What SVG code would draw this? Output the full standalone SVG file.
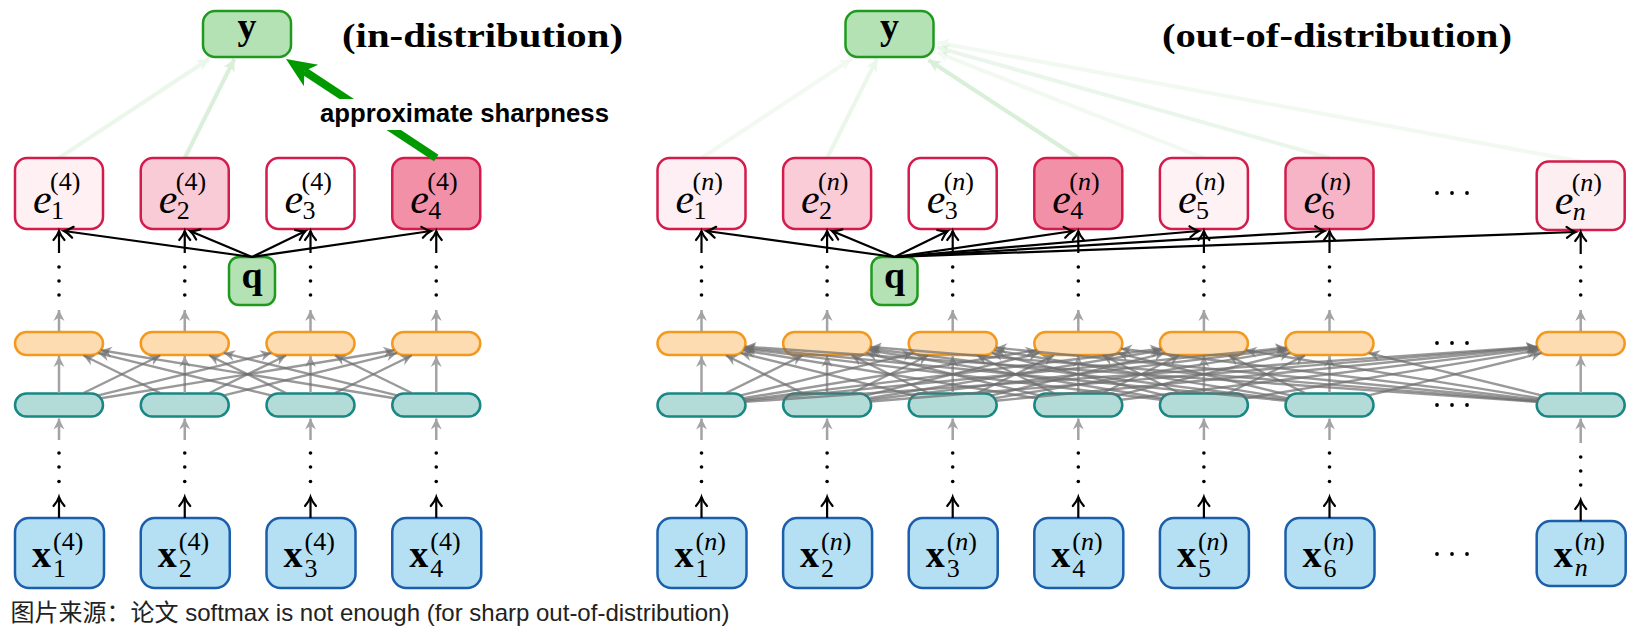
<svg xmlns="http://www.w3.org/2000/svg" width="1637" height="630" viewBox="0 0 1637 630">
<style>
.e{stroke:#d41c4c;stroke-width:2.5}
.o{fill:#fddcb2;stroke:#f39a1e;stroke-width:2.5}
.t{fill:#b3dcd9;stroke:#198784;stroke-width:2.5}
.x{fill:#b5e0f3;stroke:#1b5eab;stroke-width:2.5}
.g{fill:#b4e2b4;stroke:#1f9a1f;stroke-width:2.5}
text{fill:#000}
.mi{font-family:"Liberation Serif",serif;font-style:italic;font-size:42px}
.bf{font-family:"Liberation Serif",serif;font-weight:bold;font-size:38px}
.bl{font-family:"Liberation Serif",serif;font-weight:bold;font-size:38px}
.s{font-family:"Liberation Serif",serif;font-size:26px;font-style:normal;font-weight:normal}
.it{font-style:italic}
.ttl{font-family:"Liberation Serif",serif;font-weight:bold;font-size:34px}
.lab{font-family:"Liberation Sans",Arial,sans-serif;font-weight:bold;font-size:26px}
.cap{font-family:"Liberation Sans","Noto Sans CJK SC",sans-serif;font-size:24px;fill:#222}
.bk{stroke:#000;stroke-width:2.2;fill:none}
.gv{stroke:#a3a3a3;stroke-width:2.5;fill:none}
.gx{stroke:#6e6e6e;stroke-opacity:0.7;stroke-width:2.4;fill:none}
.gl{stroke:#009900;stroke-width:4;fill:none}
</style>
<defs>
<marker id="hb" markerUnits="userSpaceOnUse" markerWidth="20" markerHeight="20" refX="0" refY="0" orient="auto" overflow="visible"><path d="M-9,-5.5 Q-4,-1.3 0,0 Q-4,1.3 -9,5.5" fill="none" stroke="#000" stroke-width="2.2" stroke-linecap="round"/></marker>
<marker id="hv" markerUnits="userSpaceOnUse" markerWidth="20" markerHeight="20" refX="0" refY="0" orient="auto" overflow="visible"><path d="M0,0 L-11,-5.5 L-7.5,0 L-11,5.5 Z" fill="#a3a3a3"/></marker>
<marker id="hx" markerUnits="userSpaceOnUse" markerWidth="20" markerHeight="20" refX="0" refY="0" orient="auto" overflow="visible"><path d="M0,0 L-11,-5.5 L-7.5,0 L-11,5.5 Z" fill="#6e6e6e" fill-opacity="0.7"/></marker>
<marker id="hg" markerUnits="userSpaceOnUse" markerWidth="20" markerHeight="20" refX="0" refY="0" orient="auto" overflow="visible"><path d="M0,0 L-12,-6 L-9,0 L-12,6 Z" fill="#009900"/></marker>
<marker id="hG" markerUnits="userSpaceOnUse" markerWidth="40" markerHeight="40" refX="-22" refY="0" orient="auto" overflow="visible"><path d="M0,0 L-30,-13 L-22,0 L-30,13 Z" fill="#009900"/></marker>
</defs>
<rect width="1637" height="630" fill="#fff"/>

<!-- titles -->
<text class="ttl" x="342" y="46.5" textLength="281" lengthAdjust="spacingAndGlyphs">(in-distribution)</text>
<text class="ttl" x="1162" y="46.5" textLength="350" lengthAdjust="spacingAndGlyphs">(out-of-distribution)</text>

<!-- LEFT PANEL NODES -->
<g id="y-left"><rect class="g" x="203" y="11" width="88" height="46" rx="12"/><text class="bl" x="247" y="39" text-anchor="middle">y</text></g>
<g id="q-left"><rect class="g" x="229" y="257" width="46" height="48" rx="10"/><text class="bl" x="252" y="288" text-anchor="middle">q</text></g>

<g id="e1-left"><rect class="e" x="15" y="158" width="88" height="71" rx="12" fill="#fff0f4"/><text class="mi"><tspan x="33" y="213">e</tspan><tspan class="s" x="50" y="190">(4)</tspan><tspan class="s" x="51" y="219">1</tspan></text></g>
<g id="e2-left"><rect class="e" x="140.75" y="158" width="88" height="71" rx="12" fill="#f8cbd7"/><text class="mi"><tspan x="158.75" y="213">e</tspan><tspan class="s" x="175.75" y="190">(4)</tspan><tspan class="s" x="176.75" y="219">2</tspan></text></g>
<g id="e3-left"><rect class="e" x="266.5" y="158" width="88" height="71" rx="12" fill="#ffffff"/><text class="mi"><tspan x="284.5" y="213">e</tspan><tspan class="s" x="301.5" y="190">(4)</tspan><tspan class="s" x="302.5" y="219">3</tspan></text></g>
<g id="e4-left"><rect class="e" x="392.25" y="158" width="88" height="71" rx="12" fill="#f290a8"/><text class="mi"><tspan x="410.25" y="213">e</tspan><tspan class="s" x="427.25" y="190">(4)</tspan><tspan class="s" x="428.25" y="219">4</tspan></text></g>

<g id="o1-left"><rect class="o" x="15" y="332" width="88" height="23" rx="11.5"/></g>
<g id="o2-left"><rect class="o" x="140.75" y="332" width="88" height="23" rx="11.5"/></g>
<g id="o3-left"><rect class="o" x="266.5" y="332" width="88" height="23" rx="11.5"/></g>
<g id="o4-left"><rect class="o" x="392.25" y="332" width="88" height="23" rx="11.5"/></g>
<g id="t1-left"><rect class="t" x="15" y="393.5" width="88" height="23" rx="11.5"/></g>
<g id="t2-left"><rect class="t" x="140.75" y="393.5" width="88" height="23" rx="11.5"/></g>
<g id="t3-left"><rect class="t" x="266.5" y="393.5" width="88" height="23" rx="11.5"/></g>
<g id="t4-left"><rect class="t" x="392.25" y="393.5" width="88" height="23" rx="11.5"/></g>

<g id="x1-left"><rect class="x" x="15" y="518" width="89" height="70" rx="14"/><text class="bf"><tspan x="32" y="567">x</tspan><tspan class="s" x="53" y="550">(4)</tspan><tspan class="s" x="53" y="577">1</tspan></text></g>
<g id="x2-left"><rect class="x" x="140.75" y="518" width="89" height="70" rx="14"/><text class="bf"><tspan x="157.75" y="567">x</tspan><tspan class="s" x="178.75" y="550">(4)</tspan><tspan class="s" x="178.75" y="577">2</tspan></text></g>
<g id="x3-left"><rect class="x" x="266.5" y="518" width="89" height="70" rx="14"/><text class="bf"><tspan x="283.5" y="567">x</tspan><tspan class="s" x="304.5" y="550">(4)</tspan><tspan class="s" x="304.5" y="577">3</tspan></text></g>
<g id="x4-left"><rect class="x" x="392.25" y="518" width="89" height="70" rx="14"/><text class="bf"><tspan x="409.25" y="567">x</tspan><tspan class="s" x="430.25" y="550">(4)</tspan><tspan class="s" x="430.25" y="577">4</tspan></text></g>

<!-- RIGHT PANEL NODES -->
<g id="y-right"><rect class="g" x="845.5" y="11" width="88" height="46" rx="12"/><text class="bl" x="889.5" y="39" text-anchor="middle">y</text></g>
<g id="q-right"><rect class="g" x="871.5" y="257" width="46" height="48" rx="10"/><text class="bl" x="894.5" y="288" text-anchor="middle">q</text></g>

<g id="e1-right"><rect class="e" x="657.5" y="158" width="88" height="71" rx="12" fill="#fdeff3"/><text class="mi"><tspan x="675.5" y="213">e</tspan><tspan class="s" x="692.5" y="190">(<tspan class="it">n</tspan>)</tspan><tspan class="s" x="693.5" y="219">1</tspan></text></g>
<g id="e2-right"><rect class="e" x="783.1" y="158" width="88" height="71" rx="12" fill="#f9ccd8"/><text class="mi"><tspan x="801.1" y="213">e</tspan><tspan class="s" x="818.1" y="190">(<tspan class="it">n</tspan>)</tspan><tspan class="s" x="819.1" y="219">2</tspan></text></g>
<g id="e3-right"><rect class="e" x="908.7" y="158" width="88" height="71" rx="12" fill="#ffffff"/><text class="mi"><tspan x="926.7" y="213">e</tspan><tspan class="s" x="943.7" y="190">(<tspan class="it">n</tspan>)</tspan><tspan class="s" x="944.7" y="219">3</tspan></text></g>
<g id="e4-right"><rect class="e" x="1034.3" y="158" width="88" height="71" rx="12" fill="#f290a8"/><text class="mi"><tspan x="1052.3" y="213">e</tspan><tspan class="s" x="1069.3" y="190">(<tspan class="it">n</tspan>)</tspan><tspan class="s" x="1070.3" y="219">4</tspan></text></g>
<g id="e5-right"><rect class="e" x="1159.9" y="158" width="88" height="71" rx="12" fill="#fff2f5"/><text class="mi"><tspan x="1177.9" y="213">e</tspan><tspan class="s" x="1194.9" y="190">(<tspan class="it">n</tspan>)</tspan><tspan class="s" x="1195.9" y="219">5</tspan></text></g>
<g id="e6-right"><rect class="e" x="1285.5" y="158" width="88" height="71" rx="12" fill="#f7b4c6"/><text class="mi"><tspan x="1303.5" y="213">e</tspan><tspan class="s" x="1320.5" y="190">(<tspan class="it">n</tspan>)</tspan><tspan class="s" x="1321.5" y="219">6</tspan></text></g>
<g id="en-right"><rect class="e" x="1536.7" y="161.5" width="88" height="68.5" rx="12" fill="#fdeef2"/><text class="mi"><tspan x="1554.7" y="214">e</tspan><tspan class="s" x="1571.7" y="191">(<tspan class="it">n</tspan>)</tspan><tspan class="s it" x="1572.7" y="220">n</tspan></text></g>

<g id="o1-right"><rect class="o" x="657.5" y="332" width="88" height="23" rx="11.5"/></g>
<g id="o2-right"><rect class="o" x="783.1" y="332" width="88" height="23" rx="11.5"/></g>
<g id="o3-right"><rect class="o" x="908.7" y="332" width="88" height="23" rx="11.5"/></g>
<g id="o4-right"><rect class="o" x="1034.3" y="332" width="88" height="23" rx="11.5"/></g>
<g id="o5-right"><rect class="o" x="1159.9" y="332" width="88" height="23" rx="11.5"/></g>
<g id="o6-right"><rect class="o" x="1285.5" y="332" width="88" height="23" rx="11.5"/></g>
<g id="on-right"><rect class="o" x="1536.7" y="332" width="88" height="23" rx="11.5"/></g>
<g id="t1-right"><rect class="t" x="657.5" y="393.5" width="88" height="23" rx="11.5"/></g>
<g id="t2-right"><rect class="t" x="783.1" y="393.5" width="88" height="23" rx="11.5"/></g>
<g id="t3-right"><rect class="t" x="908.7" y="393.5" width="88" height="23" rx="11.5"/></g>
<g id="t4-right"><rect class="t" x="1034.3" y="393.5" width="88" height="23" rx="11.5"/></g>
<g id="t5-right"><rect class="t" x="1159.9" y="393.5" width="88" height="23" rx="11.5"/></g>
<g id="t6-right"><rect class="t" x="1285.5" y="393.5" width="88" height="23" rx="11.5"/></g>
<g id="tn-right"><rect class="t" x="1536.7" y="393.5" width="88" height="23" rx="11.5"/></g>

<g id="x1-right"><rect class="x" x="657.5" y="518" width="89" height="70" rx="14"/><text class="bf"><tspan x="674.5" y="567">x</tspan><tspan class="s" x="695.5" y="550">(<tspan class="it">n</tspan>)</tspan><tspan class="s" x="695.5" y="577">1</tspan></text></g>
<g id="x2-right"><rect class="x" x="783.1" y="518" width="89" height="70" rx="14"/><text class="bf"><tspan x="800.1" y="567">x</tspan><tspan class="s" x="821.1" y="550">(<tspan class="it">n</tspan>)</tspan><tspan class="s" x="821.1" y="577">2</tspan></text></g>
<g id="x3-right"><rect class="x" x="908.7" y="518" width="89" height="70" rx="14"/><text class="bf"><tspan x="925.7" y="567">x</tspan><tspan class="s" x="946.7" y="550">(<tspan class="it">n</tspan>)</tspan><tspan class="s" x="946.7" y="577">3</tspan></text></g>
<g id="x4-right"><rect class="x" x="1034.3" y="518" width="89" height="70" rx="14"/><text class="bf"><tspan x="1051.3" y="567">x</tspan><tspan class="s" x="1072.3" y="550">(<tspan class="it">n</tspan>)</tspan><tspan class="s" x="1072.3" y="577">4</tspan></text></g>
<g id="x5-right"><rect class="x" x="1159.9" y="518" width="89" height="70" rx="14"/><text class="bf"><tspan x="1176.9" y="567">x</tspan><tspan class="s" x="1197.9" y="550">(<tspan class="it">n</tspan>)</tspan><tspan class="s" x="1197.9" y="577">5</tspan></text></g>
<g id="x6-right"><rect class="x" x="1285.5" y="518" width="89" height="70" rx="14"/><text class="bf"><tspan x="1302.5" y="567">x</tspan><tspan class="s" x="1323.5" y="550">(<tspan class="it">n</tspan>)</tspan><tspan class="s" x="1323.5" y="577">6</tspan></text></g>
<g id="xn-right"><rect class="x" x="1536.7" y="521" width="89" height="65" rx="14"/><text class="bf"><tspan x="1553.7" y="567">x</tspan><tspan class="s" x="1574.7" y="550">(<tspan class="it">n</tspan>)</tspan><tspan class="s it" x="1574.7" y="576">n</tspan></text></g>

<!-- ellipses (dots) -->
<g id="dots" fill="#000">
<g id="vdots-upper">
<circle cx="59" cy="267" r="1.8"/><circle cx="59" cy="281" r="1.8"/><circle cx="59" cy="295" r="1.8"/>
<circle cx="184.75" cy="267" r="1.8"/><circle cx="184.75" cy="281" r="1.8"/><circle cx="184.75" cy="295" r="1.8"/>
<circle cx="310.5" cy="267" r="1.8"/><circle cx="310.5" cy="281" r="1.8"/><circle cx="310.5" cy="295" r="1.8"/>
<circle cx="436.25" cy="267" r="1.8"/><circle cx="436.25" cy="281" r="1.8"/><circle cx="436.25" cy="295" r="1.8"/>
<circle cx="701.5" cy="267" r="1.8"/><circle cx="701.5" cy="281" r="1.8"/><circle cx="701.5" cy="295" r="1.8"/>
<circle cx="827.1" cy="267" r="1.8"/><circle cx="827.1" cy="281" r="1.8"/><circle cx="827.1" cy="295" r="1.8"/>
<circle cx="952.7" cy="267" r="1.8"/><circle cx="952.7" cy="281" r="1.8"/><circle cx="952.7" cy="295" r="1.8"/>
<circle cx="1078.3" cy="267" r="1.8"/><circle cx="1078.3" cy="281" r="1.8"/><circle cx="1078.3" cy="295" r="1.8"/>
<circle cx="1203.9" cy="267" r="1.8"/><circle cx="1203.9" cy="281" r="1.8"/><circle cx="1203.9" cy="295" r="1.8"/>
<circle cx="1329.5" cy="267" r="1.8"/><circle cx="1329.5" cy="281" r="1.8"/><circle cx="1329.5" cy="295" r="1.8"/>
<circle cx="1580.7" cy="267" r="1.8"/><circle cx="1580.7" cy="281" r="1.8"/><circle cx="1580.7" cy="295" r="1.8"/>
</g>
<g id="vdots-lower">
<circle cx="59" cy="453" r="1.8"/><circle cx="59" cy="467" r="1.8"/><circle cx="59" cy="481.5" r="1.8"/>
<circle cx="184.75" cy="453" r="1.8"/><circle cx="184.75" cy="467" r="1.8"/><circle cx="184.75" cy="481.5" r="1.8"/>
<circle cx="310.5" cy="453" r="1.8"/><circle cx="310.5" cy="467" r="1.8"/><circle cx="310.5" cy="481.5" r="1.8"/>
<circle cx="436.25" cy="453" r="1.8"/><circle cx="436.25" cy="467" r="1.8"/><circle cx="436.25" cy="481.5" r="1.8"/>
<circle cx="701.5" cy="453" r="1.8"/><circle cx="701.5" cy="467" r="1.8"/><circle cx="701.5" cy="481.5" r="1.8"/>
<circle cx="827.1" cy="453" r="1.8"/><circle cx="827.1" cy="467" r="1.8"/><circle cx="827.1" cy="481.5" r="1.8"/>
<circle cx="952.7" cy="453" r="1.8"/><circle cx="952.7" cy="467" r="1.8"/><circle cx="952.7" cy="481.5" r="1.8"/>
<circle cx="1078.3" cy="453" r="1.8"/><circle cx="1078.3" cy="467" r="1.8"/><circle cx="1078.3" cy="481.5" r="1.8"/>
<circle cx="1203.9" cy="453" r="1.8"/><circle cx="1203.9" cy="467" r="1.8"/><circle cx="1203.9" cy="481.5" r="1.8"/>
<circle cx="1329.5" cy="453" r="1.8"/><circle cx="1329.5" cy="467" r="1.8"/><circle cx="1329.5" cy="481.5" r="1.8"/>
<circle cx="1580.7" cy="457" r="1.8"/><circle cx="1580.7" cy="471" r="1.8"/><circle cx="1580.7" cy="485" r="1.8"/>
</g>
<g id="hdots">
<circle cx="1437" cy="193" r="1.9"/><circle cx="1452" cy="193" r="1.9"/><circle cx="1467" cy="193" r="1.9"/>
<circle cx="1437" cy="343" r="1.9"/><circle cx="1452" cy="343" r="1.9"/><circle cx="1467" cy="343" r="1.9"/>
<circle cx="1437" cy="405" r="1.9"/><circle cx="1452" cy="405" r="1.9"/><circle cx="1467" cy="405" r="1.9"/>
<circle cx="1437" cy="554" r="1.9"/><circle cx="1452" cy="554" r="1.9"/><circle cx="1467" cy="554" r="1.9"/>
</g>
</g>

<!-- CONNECTORS -->
<g id="connectors">
<!-- green to y, left -->
<g opacity="0.07"><line class="gl" x1="59" y1="158" x2="209" y2="59" marker-end="url(#hg)"/></g>
<g opacity="0.14"><line class="gl" x1="184.75" y1="158" x2="234.4" y2="59" marker-end="url(#hg)"/></g>
<line x1="436.25" y1="158" x2="304.4" y2="71.1" stroke="#009900" stroke-width="8" marker-end="url(#hG)"/>
<!-- green to y, right -->
<g opacity="0.05"><line class="gl" x1="701.5" y1="158" x2="851.5" y2="59" marker-end="url(#hg)"/></g>
<g opacity="0.07"><line class="gl" x1="827.1" y1="158" x2="876.9" y2="59" marker-end="url(#hg)"/></g>
<g opacity="0.15"><line class="gl" x1="1078.3" y1="158" x2="928.5" y2="60" marker-end="url(#hg)"/></g>
<g opacity="0.05"><line class="gl" x1="1203.9" y1="158" x2="937" y2="52.5" marker-end="url(#hg)"/></g>
<g opacity="0.08"><line class="gl" x1="1329.5" y1="158" x2="937" y2="47.3" marker-end="url(#hg)"/></g>
<g opacity="0.05"><line class="gl" x1="1580.7" y1="161.5" x2="937" y2="42.5" marker-end="url(#hg)"/></g>

<!-- black arrows -->
<g class="bk" marker-end="url(#hb)">
<line x1="252" y1="257" x2="64" y2="231"/>
<line x1="252" y1="257" x2="190" y2="231"/>
<line x1="252" y1="257" x2="305.5" y2="231"/>
<line x1="252" y1="257" x2="431" y2="231"/>
<line x1="894.5" y1="257" x2="706.5" y2="231"/>
<line x1="894.5" y1="257" x2="832" y2="231"/>
<line x1="894.5" y1="257" x2="947.7" y2="231"/>
<line x1="894.5" y1="257" x2="1073.3" y2="231"/>
<line x1="894.5" y1="257" x2="1198.9" y2="231"/>
<line x1="894.5" y1="257" x2="1324.5" y2="231"/>
<line x1="894.5" y1="257" x2="1575.7" y2="232"/>
<line x1="59" y1="253" x2="59" y2="231"/>
<line x1="184.75" y1="253" x2="184.75" y2="231"/>
<line x1="310.5" y1="253" x2="310.5" y2="231"/>
<line x1="436.25" y1="253" x2="436.25" y2="231"/>
<line x1="701.5" y1="253" x2="701.5" y2="231"/>
<line x1="827.1" y1="253" x2="827.1" y2="231"/>
<line x1="952.7" y1="253" x2="952.7" y2="231"/>
<line x1="1078.3" y1="253" x2="1078.3" y2="231"/>
<line x1="1203.9" y1="253" x2="1203.9" y2="231"/>
<line x1="1329.5" y1="253" x2="1329.5" y2="231"/>
<line x1="1580.7" y1="254" x2="1580.7" y2="232"/>
<line x1="59" y1="518" x2="59" y2="497"/>
<line x1="184.75" y1="518" x2="184.75" y2="497"/>
<line x1="310.5" y1="518" x2="310.5" y2="497"/>
<line x1="436.25" y1="518" x2="436.25" y2="497"/>
<line x1="701.5" y1="518" x2="701.5" y2="497"/>
<line x1="827.1" y1="518" x2="827.1" y2="497"/>
<line x1="952.7" y1="518" x2="952.7" y2="497"/>
<line x1="1078.3" y1="518" x2="1078.3" y2="497"/>
<line x1="1203.9" y1="518" x2="1203.9" y2="497"/>
<line x1="1329.5" y1="518" x2="1329.5" y2="497"/>
<line x1="1580.7" y1="521" x2="1580.7" y2="500"/>
</g>

<!-- vertical gray -->
<g class="gv" marker-end="url(#hv)">
<line x1="59" y1="332" x2="59" y2="310"/><line x1="59" y1="393" x2="59" y2="356"/><line x1="59" y1="440" x2="59" y2="418.5"/>
<line x1="184.75" y1="332" x2="184.75" y2="310"/><line x1="184.75" y1="393" x2="184.75" y2="356"/><line x1="184.75" y1="440" x2="184.75" y2="418.5"/>
<line x1="310.5" y1="332" x2="310.5" y2="310"/><line x1="310.5" y1="393" x2="310.5" y2="356"/><line x1="310.5" y1="440" x2="310.5" y2="418.5"/>
<line x1="436.25" y1="332" x2="436.25" y2="310"/><line x1="436.25" y1="393" x2="436.25" y2="356"/><line x1="436.25" y1="440" x2="436.25" y2="418.5"/>
<line x1="701.5" y1="332" x2="701.5" y2="310"/><line x1="701.5" y1="393" x2="701.5" y2="356"/><line x1="701.5" y1="440" x2="701.5" y2="418.5"/>
<line x1="827.1" y1="332" x2="827.1" y2="310"/><line x1="827.1" y1="393" x2="827.1" y2="356"/><line x1="827.1" y1="440" x2="827.1" y2="418.5"/>
<line x1="952.7" y1="332" x2="952.7" y2="310"/><line x1="952.7" y1="393" x2="952.7" y2="356"/><line x1="952.7" y1="440" x2="952.7" y2="418.5"/>
<line x1="1078.3" y1="332" x2="1078.3" y2="310"/><line x1="1078.3" y1="393" x2="1078.3" y2="356"/><line x1="1078.3" y1="440" x2="1078.3" y2="418.5"/>
<line x1="1203.9" y1="332" x2="1203.9" y2="310"/><line x1="1203.9" y1="393" x2="1203.9" y2="356"/><line x1="1203.9" y1="440" x2="1203.9" y2="418.5"/>
<line x1="1329.5" y1="332" x2="1329.5" y2="310"/><line x1="1329.5" y1="393" x2="1329.5" y2="356"/><line x1="1329.5" y1="440" x2="1329.5" y2="418.5"/>
<line x1="1580.7" y1="332" x2="1580.7" y2="310"/><line x1="1580.7" y1="393" x2="1580.7" y2="356"/><line x1="1580.7" y1="443" x2="1580.7" y2="418.5"/>
</g>

<!-- cross connections (left) -->
<g class="gx" marker-end="url(#hx)">
<line x1="83.5" y1="393" x2="160.25" y2="355.5"/>
<line x1="98.2" y1="395.4" x2="271.3" y2="353.1"/>
<line x1="100.9" y1="398.2" x2="394.35" y2="350.3"/>
<line x1="160.25" y1="393" x2="83.5" y2="355.5"/>
<line x1="209.25" y1="393" x2="286" y2="355.5"/>
<line x1="223.95" y1="395.4" x2="397.05" y2="353.1"/>
<line x1="271.3" y1="395.4" x2="98.2" y2="353.1"/>
<line x1="286" y1="393" x2="209.25" y2="355.5"/>
<line x1="335" y1="393" x2="411.75" y2="355.5"/>
<line x1="394.35" y1="398.2" x2="100.9" y2="350.3"/>
<line x1="397.05" y1="395.4" x2="223.95" y2="353.1"/>
<line x1="411.75" y1="393" x2="335" y2="355.5"/>
</g>
<!-- cross connections (right) -->
<g class="gx" marker-end="url(#hx)">
<line x1="726" y1="393" x2="802.6" y2="355.5"/>
<line x1="740.7" y1="395.4" x2="913.5" y2="353.1"/>
<line x1="743.4" y1="398.2" x2="1036.4" y2="350.3"/>
<line x1="744.3" y1="399.8" x2="1161.1" y2="348.7"/>
<line x1="744.7" y1="400.8" x2="1286.3" y2="347.7"/>
<line x1="745.1" y1="401.9" x2="1537.1" y2="346.6"/>
<line x1="802.6" y1="393" x2="726" y2="355.5"/>
<line x1="851.6" y1="393" x2="928.2" y2="355.5"/>
<line x1="866.3" y1="395.4" x2="1039.1" y2="353.1"/>
<line x1="869" y1="398.2" x2="1162" y2="350.3"/>
<line x1="869.9" y1="399.8" x2="1286.7" y2="348.7"/>
<line x1="870.6" y1="401.5" x2="1537.2" y2="347"/>
<line x1="913.5" y1="395.4" x2="740.7" y2="353.1"/>
<line x1="928.2" y1="393" x2="851.6" y2="355.5"/>
<line x1="977.2" y1="393" x2="1053.8" y2="355.5"/>
<line x1="991.9" y1="395.4" x2="1164.7" y2="353.1"/>
<line x1="994.6" y1="398.2" x2="1287.6" y2="350.3"/>
<line x1="995.9" y1="400.8" x2="1537.5" y2="347.7"/>
<line x1="1036.4" y1="398.2" x2="743.4" y2="350.3"/>
<line x1="1039.1" y1="395.4" x2="866.3" y2="353.1"/>
<line x1="1053.8" y1="393" x2="977.2" y2="355.5"/>
<line x1="1102.8" y1="393" x2="1179.4" y2="355.5"/>
<line x1="1117.5" y1="395.4" x2="1290.3" y2="353.1"/>
<line x1="1121.1" y1="399.8" x2="1537.9" y2="348.7"/>
<line x1="1161.1" y1="399.8" x2="744.3" y2="348.7"/>
<line x1="1162" y1="398.2" x2="869" y2="350.3"/>
<line x1="1164.7" y1="395.4" x2="991.9" y2="353.1"/>
<line x1="1179.4" y1="393" x2="1102.8" y2="355.5"/>
<line x1="1228.4" y1="393" x2="1305" y2="355.5"/>
<line x1="1245.8" y1="398.2" x2="1538.8" y2="350.3"/>
<line x1="1286.3" y1="400.8" x2="744.7" y2="347.7"/>
<line x1="1286.7" y1="399.8" x2="869.9" y2="348.7"/>
<line x1="1287.6" y1="398.2" x2="994.6" y2="350.3"/>
<line x1="1290.3" y1="395.4" x2="1117.5" y2="353.1"/>
<line x1="1305" y1="393" x2="1228.4" y2="355.5"/>
<line x1="1368.7" y1="395.4" x2="1541.5" y2="353.1"/>
<line x1="1537.1" y1="401.9" x2="745.1" y2="346.6"/>
<line x1="1537.2" y1="401.5" x2="870.6" y2="347"/>
<line x1="1537.5" y1="400.8" x2="995.9" y2="347.7"/>
<line x1="1537.9" y1="399.8" x2="1121.1" y2="348.7"/>
<line x1="1538.8" y1="398.2" x2="1245.8" y2="350.3"/>
<line x1="1541.5" y1="395.4" x2="1368.7" y2="353.1"/>
</g>
</g>

<!-- edge label -->
<g id="label-sharpness">
<rect x="316" y="99" width="298" height="31" fill="#fff"/>
<text class="lab" x="320" y="121.5" textLength="289" lengthAdjust="spacingAndGlyphs">approximate sharpness</text>
</g>

<text class="cap" x="10.5" y="621">图片来源：论文 softmax is not enough (for sharp out-of-distribution)</text>
</svg>
